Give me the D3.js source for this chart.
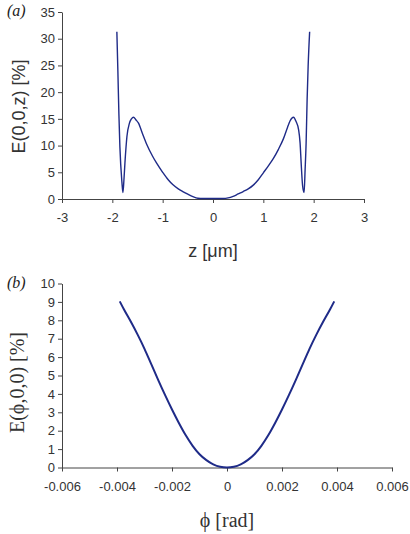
<!DOCTYPE html>
<html>
<head>
<meta charset="utf-8">
<script src="https://cdn.jsdelivr.net/npm/d3@7"></script>
<style>
  body { margin: 0; background: #fff; }
  .tick text { font-family: "Liberation Sans", Arial, sans-serif; font-size: 13px; fill: #333; }
  .tick line, .domain { stroke: #444; }
</style>
</head>
<body>
<svg id="chart" width="410" height="534"></svg>
<script>
// panel (a): E(0,0,z) along z
const zVals = [-1.91, -1.89, -1.87, -1.85, -1.81, -1.79, -1.77, -1.75, -1.71, -1.66, -1.62, -1.58,
  -1.53, -1.48, -1.4, -1.32, -1.2, -1.12, -1.0, -0.89, -0.8, -0.69, -0.6, -0.5, -0.4, -0.3, -0.2,
  -0.1, 0, 0.1, 0.2, 0.3, 0.4, 0.5, 0.6, 0.7, 0.8, 0.9, 1.0, 1.1, 1.2, 1.3, 1.4, 1.48, 1.53, 1.6,
  1.65, 1.7, 1.73, 1.75, 1.78, 1.81, 1.83, 1.85, 1.87, 1.89, 1.92];
const eZ = [31.3, 24, 16, 9.8, 3.2, 1.2, 3.5, 6.7, 11.7, 14.2, 15.0, 15.3,
  14.8, 14.2, 12.2, 10.3, 8.0, 6.7, 5.0, 3.6, 2.7, 1.9, 1.4, 0.9, 0.45, 0.15, 0.1,
  0.1, 0.1, 0.1, 0.1, 0.2, 0.5, 0.95, 1.4, 1.9, 2.6, 3.6, 4.9, 6.2, 7.6, 9.3, 11.3, 13.4, 14.6, 15.3,
  14.5, 13.0, 10.5, 7.0, 2.5, 1.2, 5.5, 10.5, 18.6, 24.8, 31.3];
const xTicksA = [-3, -2, -1, 0, 1, 2, 3];
const yTicksA = [0, 5, 10, 15, 20, 25, 30, 35];

// panel (b): E(phi,0,0) along phi
const phiVals = [-0.0039, -0.00375, -0.0035, -0.00325, -0.003, -0.00275, -0.0025, -0.00225, -0.002,
  -0.00175, -0.0015, -0.00125, -0.001, -0.00075, -0.0005, -0.00025, 0,
  0.00025, 0.0005, 0.00075, 0.001, 0.00125, 0.0015, 0.00175, 0.002, 0.00225, 0.0025, 0.00275,
  0.003, 0.00325, 0.0035, 0.00375, 0.0039];
const ePhi = [9.03, 8.6, 7.93, 7.22, 6.45, 5.6, 4.75, 3.93, 3.15,
  2.42, 1.75, 1.18, 0.72, 0.4, 0.17, 0.04, 0,
  0.04, 0.17, 0.4, 0.72, 1.18, 1.75, 2.42, 3.15, 3.93, 4.75, 5.6,
  6.45, 7.22, 7.93, 8.6, 9.03];
const xTicksB = [-0.006, -0.004, -0.002, 0, 0.002, 0.004, 0.006];
const xLabelsB = ["-0.006", "-0.004", "-0.002", "0", "0.002", "0.004", "0.006"];
const yTicksB = [0, 1, 2, 3, 4, 5, 6, 7, 8, 9, 10];

const svg = d3.select("#chart");
const lineColor = "#1f2b88";
const sans = "'Liberation Sans', Arial, sans-serif";
const serif = "'Liberation Serif', 'Times New Roman', serif";

// ---- panel (a)
const xA = d3.scaleLinear().domain([-3, 3]).range([62, 364]);
const yA = d3.scaleLinear().domain([0, 35]).range([199, 12]);

svg.append("g")
  .attr("transform", `translate(0, ${yA(0)})`)
  .call(d3.axisBottom(xA).tickValues(xTicksA).tickFormat(d => String(d))
    .tickSize(4).tickSizeOuter(0).tickPadding(10));

svg.append("g")
  .attr("transform", `translate(${xA(-3)}, 0)`)
  .call(d3.axisLeft(yA).tickValues(yTicksA).tickFormat(d => String(d))
    .tickSize(4).tickSizeOuter(0).tickPadding(3));

const lineA = d3.line()
  .x((d, i) => xA(zVals[i]))
  .y(d => yA(d))
  .curve(d3.curveMonotoneX);

svg.append("path")
  .attr("d", lineA(eZ))
  .attr("fill", "none")
  .attr("stroke", lineColor)
  .attr("stroke-width", 1.4)
  .attr("stroke-linejoin", "round");

svg.append("text")
  .attr("transform", `translate(25, ${(yA(0) + yA(35)) / 2 + 1}) rotate(-90)`)
  .attr("text-anchor", "middle")
  .style("font-family", sans).style("font-size", "18px").style("fill", "#333")
  .text("E(0,0,z) [%]");

svg.append("text")
  .attr("x", xA(0)).attr("y", 257)
  .attr("text-anchor", "middle")
  .style("font-family", sans).style("font-size", "18px").style("fill", "#333")
  .text("z [\u03bcm]");

svg.append("text")
  .attr("x", 7).attr("y", 16)
  .style("font-family", serif).style("font-style", "italic").style("font-size", "16px").style("fill", "#222")
  .text("(a)");

// ---- panel (b)
const xB = d3.scaleLinear().domain([-0.006, 0.006]).range([62, 392]);
const yB = d3.scaleLinear().domain([0, 10]).range([467.5, 283.5]);

svg.append("g")
  .attr("transform", `translate(0, ${yB(0)})`)
  .call(d3.axisBottom(xB).tickValues(xTicksB).tickFormat((d, i) => xLabelsB[i])
    .tickSize(4).tickSizeOuter(0).tickPadding(10));

svg.append("g")
  .attr("transform", `translate(${xB(-0.006)}, 0)`)
  .call(d3.axisLeft(yB).tickValues(yTicksB).tickFormat(d => String(d))
    .tickSize(4).tickSizeOuter(0).tickPadding(3));

const lineB = d3.line()
  .x((d, i) => xB(phiVals[i]))
  .y(d => yB(d))
  .curve(d3.curveMonotoneX);

svg.append("path")
  .attr("d", lineB(ePhi))
  .attr("fill", "none")
  .attr("stroke", lineColor)
  .attr("stroke-width", 2);

svg.append("text")
  .attr("transform", `translate(24, ${(yB(0) + yB(10)) / 2 + 7}) rotate(-90)`)
  .attr("text-anchor", "middle")
  .style("font-family", serif).style("font-size", "20px").style("fill", "#333")
  .text("E(\u03d5,0,0) [%]");

svg.append("text")
  .attr("x", xB(0)).attr("y", 527)
  .attr("text-anchor", "middle")
  .style("font-family", serif).style("font-size", "20px").style("fill", "#333")
  .text("\u03d5 [rad]");

svg.append("text")
  .attr("x", 7).attr("y", 288)
  .style("font-family", serif).style("font-style", "italic").style("font-size", "16px").style("fill", "#222")
  .text("(b)");
</script>
</body>
</html>
